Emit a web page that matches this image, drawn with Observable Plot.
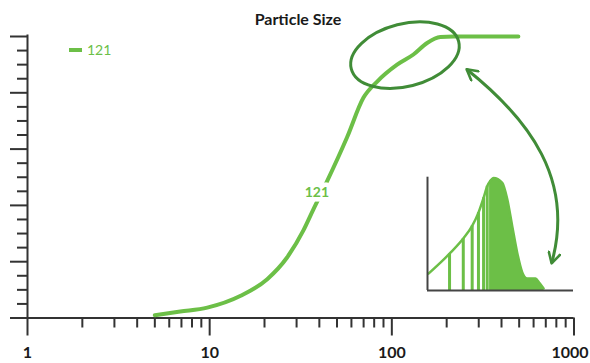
<!DOCTYPE html>
<html>
<head>
<meta charset="utf-8">
<script src="https://cdn.jsdelivr.net/npm/d3@7"></script>
<script src="https://cdn.jsdelivr.net/npm/@observablehq/plot@0.6"></script>
<style>
  html, body { margin: 0; padding: 0; background: #fff; }
  #wrap { position: relative; width: 590px; height: 363px; font-family: Lato, "Open Sans", sans-serif; overflow: hidden; }
  #title { position: absolute; left: 0; width: 596px; top: 9px; text-align: center; font-weight: bold; font-size: 16px; color: #1a1a1a; }
  #legend { position: absolute; left: 69px; top: 41px; font-size: 14px; color: #6cbf47; display: flex; align-items: center; }
  #legend .sw { display: inline-block; width: 13px; height: 4px; background: #6cbf47; margin-right: 5px; }
  #inset { position: absolute; left: 417px; top: 170px; }
</style>
</head>
<body>
<div id="wrap">
  <div id="title">Particle Size</div>
  <div id="legend"><span class="sw"></span><span>121</span></div>
</div>
<script>
// ---- data ----
const sizeX = [5, 6.9, 9.7, 14.8, 20.7, 26.6, 32.7, 37.1, 44.2, 56.8, 69.8, 83.1, 106.9, 131.4, 156.2, 184.8, 217.8, 495];
const cumY  = [1, 2.3, 3.7, 7.9, 13.8, 21.5, 31.1, 38.6, 48.7, 64.2, 78.2, 84, 90, 93.6, 97.7, 99.8, 100, 100];
const seriesName = "121";
const majorTicksX = [1, 10, 100, 1000];
const minorTicksX = [2,3,4,5,6,7,8,9,20,30,40,50,60,70,80,90,200,300,400,500,600,700,800,900];
const majorTicksY = [0, 20, 40, 60, 80, 100];
const minorTicksY = [5,10,15,25,30,35,45,50,55,65,70,75,85,90,95];
const seriesLabelAt = {x: 38.8, y: 44.4};

// inset distribution (illustrative, arbitrary units 0-100)
const insetX = [0.7, 15.1, 24.5, 30.6, 34.9, 38.4, 40.9, 43.2, 45.2, 51.2, 54.6, 58, 61.4, 64.9, 68.3, 74, 76.3, 79.5];
const insetY = [14.9, 32.5, 45.9, 57, 68.7, 81.8, 92, 97, 99.4, 95, 80.7, 57, 33.6, 16, 10.5, 10.5, 7.3, 1.8];
const hatchX = [15.1, 24.5, 30.6, 34.9, 38.4, 40.9, 43.2];
const hatchY = [32.5, 45.9, 57, 68.7, 81.8, 92, 97];
const fillFromX = 43.2;

// ---- styles ----
const green = "#6cbf47";
const darkGreen = "#408c37";
const axisColor = "#333";

const curve = sizeX.map((x, i) => ({x, y: cumY[i]}));
const lastTick = majorTicksX[majorTicksX.length - 1];

const plot = Plot.plot({
  width: 590, height: 363,
  marginLeft: 27, marginRight: 16.5, marginTop: 36, marginBottom: 45.5,
  x: {type: "log", domain: [1, 1000], label: null},
  y: {domain: [0, 100], label: null},
  style: {fontFamily: "Lato, 'Open Sans', sans-serif", background: "transparent", overflow: "visible", color: axisColor},
  marks: [
    Plot.ruleY([0], {x1: 0.81, x2: 1000, stroke: axisColor, strokeWidth: 2}),
    Plot.ruleX([1], {y1: 0, y2: 100.5, stroke: axisColor, strokeWidth: 2}),
    Plot.axisX({ticks: majorTicksX, tickSize: 18, text: null, label: null, stroke: axisColor, strokeWidth: 2}),
    Plot.axisX({ticks: majorTicksX.slice(0, -1), tickSize: 18, tickPadding: 11, fontSize: 16, fontWeight: "bold", label: null,
      tickFormat: d => String(d), stroke: "none", fill: "#1a1a1a"}),
    Plot.axisX({ticks: [lastTick], tickSize: 18, tickPadding: 11, fontSize: 16, fontWeight: "bold", label: null, dx: -4,
      tickFormat: d => String(d), stroke: "none", fill: "#1a1a1a"}),
    Plot.axisX({ticks: minorTicksX, tickSize: 10, text: null, label: null, stroke: axisColor, strokeWidth: 2}),
    Plot.axisY({ticks: majorTicksY, tickSize: 17, text: null, label: null, stroke: axisColor, strokeWidth: 2}),
    Plot.axisY({ticks: minorTicksY, tickSize: 10, text: null, label: null, stroke: axisColor, strokeWidth: 2}),
    Plot.line(curve, {x: "x", y: "y", stroke: green, strokeWidth: 4, curve: "monotone-x"}),
    Plot.text([seriesLabelAt], {x: "x", y: "y", text: () => seriesName, fill: green, stroke: "white",
      strokeWidth: 9, fontSize: 14, fontWeight: "bold"})
  ]
});
document.getElementById("wrap").appendChild(plot);
plot.style.position = "absolute"; plot.style.left = "0"; plot.style.top = "0";

// annotations: ellipse around the shoulder & curved double arrow
const sx = plot.scale("x"), sy = plot.scale("y");
const svg = d3.select(plot);
const ell = {x: 118.8, y: 93.2, rx: 55.4, ry: 31.3, angle: -14.3};
const ecx = sx.apply(ell.x), ecy = sy.apply(ell.y);
svg.append("ellipse")
  .attr("cx", 0).attr("cy", 0).attr("rx", ell.rx).attr("ry", ell.ry)
  .attr("transform", `translate(${ecx},${ecy}) rotate(${ell.angle})`)
  .attr("fill", "none").attr("stroke", darkGreen).attr("stroke-width", 3);

const defs = svg.append("defs");
defs.append("marker").attr("id", "chev").attr("viewBox", "0 0 12 12")
  .attr("refX", 10).attr("refY", 6).attr("markerWidth", 14).attr("markerHeight", 14)
  .attr("markerUnits", "userSpaceOnUse").attr("orient", "auto-start-reverse")
  .append("path").attr("d", "M1,1 L10,6 L1,11").attr("fill", "none")
  .attr("stroke", darkGreen).attr("stroke-width", 2.2).attr("stroke-linecap", "round").attr("stroke-linejoin", "round");

const arrowPts = [[259, 88.2], [576.5, 70.2], [1018, 48.8], [758, 19.25]];
const ap = arrowPts.map(([x, y]) => [sx.apply(x), sy.apply(y)]);
svg.append("path")
  .attr("d", `M${ap[0]} C${ap[1]} ${ap[2]} ${ap[3]}`)
  .attr("fill", "none").attr("stroke", darkGreen).attr("stroke-width", 3)
  .attr("marker-start", "url(#chev)").attr("marker-end", "url(#chev)");

// ---- inset ----
const dist = insetX.map((x, i) => ({x, y: insetY[i]}));
const hatch = hatchX.map((x, i) => ({x, y: hatchY[i]}));
const inset = Plot.plot({
  width: 165, height: 130,
  marginLeft: 10, marginRight: 9, marginTop: 6.7, marginBottom: 10,
  x: {domain: [0, 100], axis: null},
  y: {domain: [0, 100], axis: null},
  style: {background: "transparent", overflow: "visible"},
  marks: [
    Plot.areaY(dist.filter(d => d.x >= fillFromX), {x: "x", y: "y", fill: green, curve: "monotone-x"}),
    Plot.ruleX(hatch, {x: "x", y1: 0, y2: "y", stroke: green, strokeWidth: 3}),
    Plot.line(dist, {x: "x", y: "y", stroke: green, strokeWidth: 2.5, curve: "monotone-x"}),
    Plot.ruleX([0], {y1: 0, y2: 100, stroke: "#444", strokeWidth: 2}),
    Plot.ruleY([0], {x1: 0, x2: 100, stroke: "#444", strokeWidth: 2})
  ]
});
inset.id = "inset";
document.getElementById("wrap").appendChild(inset);
</script>
</body>
</html>
